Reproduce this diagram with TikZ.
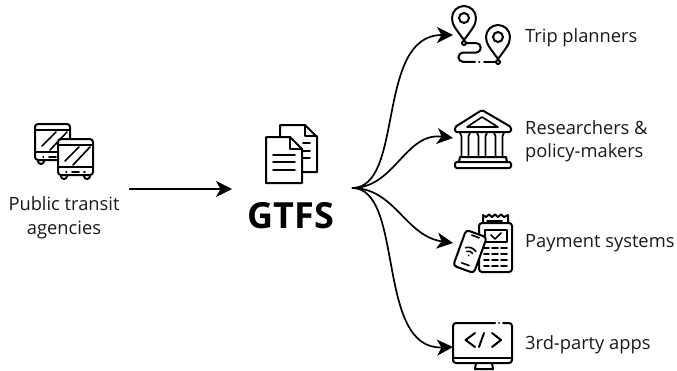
\documentclass[tikz,border=0pt]{standalone}
\usepackage{fontspec}
\setmainfont{Open Sans}
\usetikzlibrary{arrows.meta}
\tikzset{
  icon/.style={draw=black,line width=2pt,line join=round,line cap=round},
  thin icon/.style={icon,line width=1.6pt},
  label/.style={inner sep=0pt,font=\fontsize{18.3}{22}\selectfont,text=black!90},
  lead/.style={draw=black,line width=1.7pt,-{Stealth[length=16pt,width=16pt,inset=4.5pt]}},
  hook/.style={inner sep=0pt,minimum size=0pt},
  pics/busicon/.style={code={
    \draw[icon,fill=white] (0,3) arc[start angle=180,end angle=90,radius=3pt] -- (32,0) arc[start angle=90,end angle=0,radius=3pt] -- (35,33) arc[start angle=0,end angle=-90,radius=3pt] -- (3,36) arc[start angle=270,end angle=180,radius=3pt] -- cycle;
    \draw[thin icon] (0,6) -- (35,6) (0,28) -- (35,28);
    \draw[thin icon] (7,22) -- (21,8) (15,26) -- (32,8);
    \draw[thin icon] (8,33) -- (8.5,33) (26,33) -- (27,33) (14,33) -- (21,33);
    \draw[icon] (3,37) arc[start angle=180,end angle=360,radius=3pt] (26,37) arc[start angle=180,end angle=360,radius=3pt];
  }},
}
\begin{document}
\begin{tikzpicture}[x=1pt,y=-1pt]
\useasboundingbox[fill=white] (0,0) rectangle (677,370);

% bus icons
\pic at (35,124) {busicon};
\pic at (58,139) {busicon};
\node[label] (agencies1) at (64,203.5) {Public transit};
\node[label] (agencies2) at (64,229.5) {agencies};
\coordinate (agout) at (129,189);

% documents
\draw[icon,fill=white] (280,137) -- (280,125) -- (305,125) -- (317,137) -- (317,172) -- (302,172);
\draw[thin icon] (305,125) -- (305,136) -- (317,136);
\draw[thin icon] (303,143) -- (310,143) (303,151) -- (310,151) (303,158) -- (310,158);
\draw[icon,fill=white] (266,137) -- (290,137) -- (302,149) -- (302,183) -- (266,183) -- cycle;
\draw[thin icon] (290,137) -- (290,149) -- (302,149);
\draw[thin icon] (273,155) -- (295,155) (273,162) -- (295,162) (273,170) -- (295,170);
\node[inner sep=0pt,font=\fontsize{36}{40}\selectfont\bfseries] (gtfs) at (291,216) {GTFS};
\coordinate (gtin) at (232,189);
\coordinate (gtout) at (352,188);

% trip planners
\draw[icon] (464,40) .. controls (456,29) and (452,25) .. (452,18) arc[start angle=180,end angle=0,radius=12pt] .. controls (476,25) and (472,29) .. (464,40);
\draw[icon] (464,18) circle[radius=5pt] (464,43) circle[radius=2pt];
\draw[icon] (498,59) .. controls (490,48) and (486,44) .. (486,37) arc[start angle=180,end angle=0,radius=12pt] .. controls (510,44) and (506,48) .. (498,59);
\draw[icon] (498,37) circle[radius=5pt] (498,62) circle[radius=2pt];
\draw[icon] (466,43) -- (476,43) arc[start angle=90,end angle=-90,radius=4.8pt] -- (463,52.6) arc[start angle=90,end angle=270,radius=4.6pt] -- (475,61.8);
\draw[thin icon] (479,61.8) -- (479.5,61.8) (484,61.8) -- (496,61.8);
\node[hook] (trip) at (453,35) {};
\node[label,anchor=west] (triptext) at (525,37.7) {Trip planners};

% bank
\draw[icon,rounded corners=1.5pt] (482,110) -- (511,127) -- (511,132) -- (455,132) -- (455,127) -- cycle;
\draw[thin icon] (482,117) -- (498,127) -- (467,127) -- cycle;
\foreach \cx in {465,482,499}{
  \draw[thin icon] (\cx-5,133) -- (\cx-3.5,136) -- (\cx-3.5,157) (\cx+5,133) -- (\cx+3.5,136) -- (\cx+3.5,157);
}
\draw[icon] (459,162) -- (460,157) -- (506,157) -- (507,162);
\draw[icon,rounded corners=1.5pt] (455,162) rectangle (511,168);
\node[hook] (research) at (453,138) {};
\node[label,anchor=west] (restext1) at (525,127.7) {Researchers \&};
\node[label,anchor=west] (restext2) at (525,153.2) {policy-makers};

% payment
\draw[icon] (483,223) -- (483,215) -- (486,217) -- (489,214.5) -- (492,217) -- (495,214.5) -- (498,217) -- (501,214.5) -- (504,217) -- (508,215) -- (508,223);
\draw[thin icon] (487,221) -- (502,221);
\draw[icon,rounded corners=3pt] (479,223) rectangle (512,272);
\draw[thin icon] (485,230) rectangle (507,242);
\draw[thin icon] (491,235) -- (495,239) -- (501,233);
\foreach \ry in {248,254,260,266}{
  \draw[thin icon] (484,\ry) -- (489,\ry) (492,\ry) -- (498,\ry) (501,\ry) -- (507,\ry);
}
\begin{scope}[shift={(470,251.5)},rotate=-20]
  \draw[icon,fill=white,rounded corners=3.5pt] (-11,-19) rectangle (11,19);
  \draw[thin icon] (-4,-16) -- (4,-16);
  \draw[thin icon] (-4,13.5) -- (4,13.5);
  \draw[thin icon] (0,4) -- (0,4.3);
  \draw[thin icon] (-3,1) .. controls (-1.5,-0.5) and (1.5,-0.5) .. (3,1);
  \draw[thin icon] (-5.5,-2) .. controls (-2.5,-4.5) and (2.5,-4.5) .. (5.5,-2);
\end{scope}
\node[hook] (payment) at (453,243) {};
\node[label,anchor=west] (paytext) at (525,242.7) {Payment systems};

% monitor
\draw[icon,rounded corners=3pt] (495,323) -- (453,323) -- (453,363) -- (512,363) -- (512,323) -- (503,323);
\draw[icon] (499,323) -- (499.2,323);
\draw[thin icon] (453,358) -- (512,358);
\draw[icon] (476,363) -- (475,369) -- (493,369) -- (492,363);
\draw[icon] (475,333) -- (465.5,340) -- (475,347);
\draw[icon] (479,347) -- (484,333);
\draw[icon] (492,333) -- (501,340) -- (492,347);
\node[hook] (apps) at (453,347) {};
\node[label,anchor=west] (appstext) at (525,344.7) {3rd-party apps};

% connectors
\draw[lead] (agout) -- (gtin);
\draw[lead] (gtout) .. controls (405,188) and (375,35) .. (trip.center);
\draw[lead] (gtout) .. controls (395,188) and (405,132) .. (research.center);
\draw[lead] (gtout) .. controls (395,188) and (405,236) .. (payment.center);
\draw[lead] (gtout) .. controls (405,188) and (375,350) .. (apps.center);
\end{tikzpicture}
\end{document}
